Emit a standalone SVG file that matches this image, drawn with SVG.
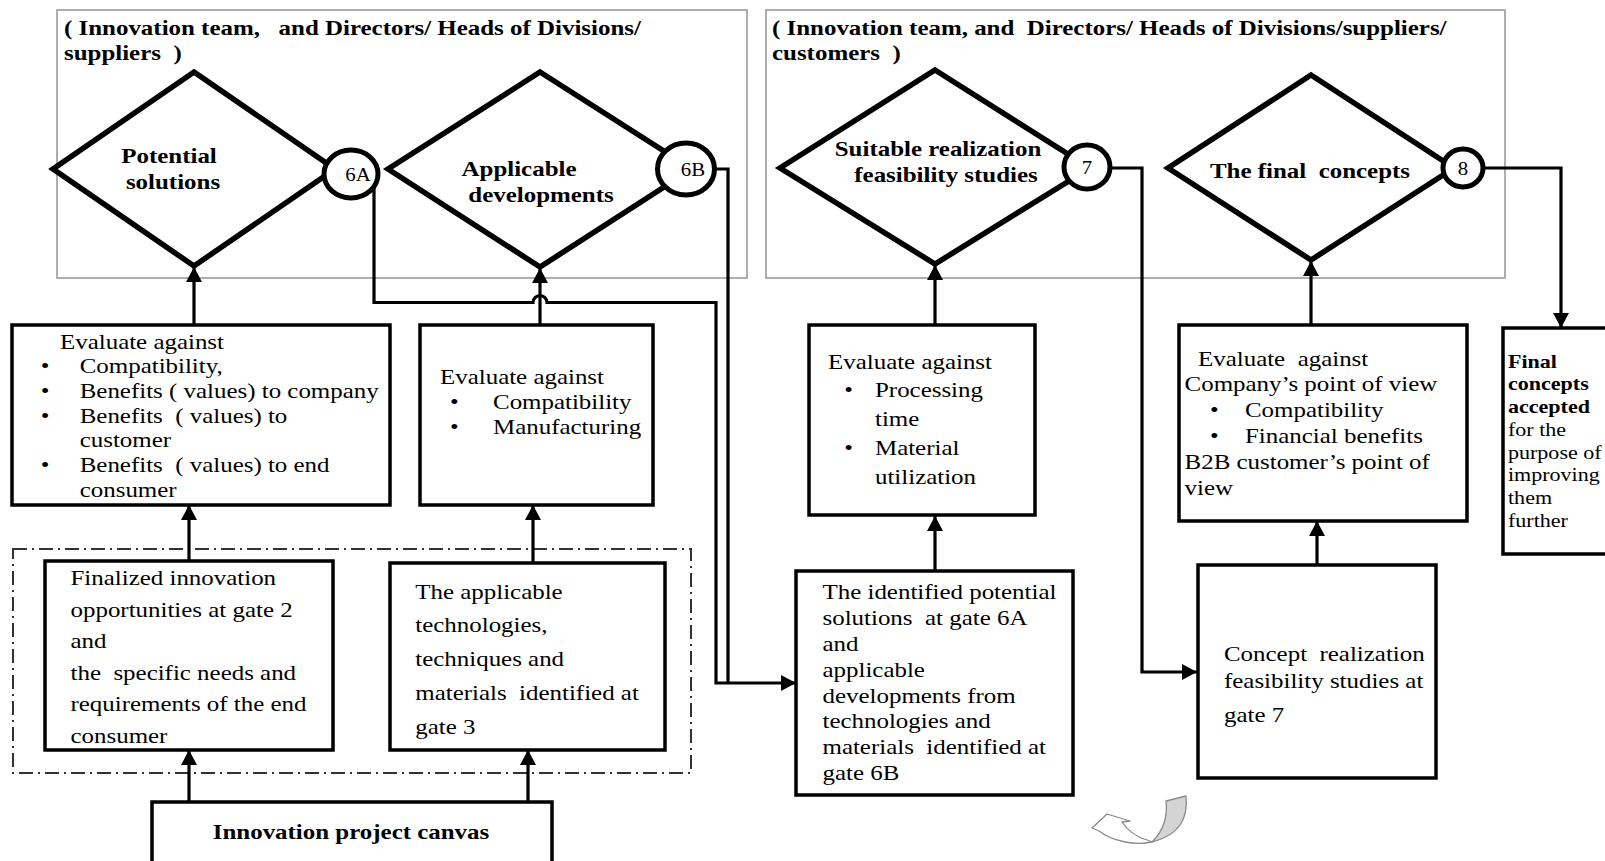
<svg xmlns="http://www.w3.org/2000/svg" width="1605" height="861" viewBox="0 0 1605 861">
  <defs>
    <marker id="ah" markerWidth="15" markerHeight="16" refX="15" refY="8" orient="auto" markerUnits="userSpaceOnUse">
      <path d="M0,0 L15,8 L0,16 Z" fill="#000"/>
    </marker>
    <style>
      .t { font-family: "Liberation Serif", "Times New Roman", serif; font-size: 21.5px; fill: #000; }
      .b { font-weight: bold; }
      .sm { font-size: 19px; }
      .num { font-size: 18px; }
      .grp { fill: none; stroke: #9a9a9a; stroke-width: 1.6; }
      .box { fill: #fff; stroke: #000; stroke-width: 3.5; }
      .dia { fill: #fff; stroke: #000; stroke-width: 5.5; stroke-linejoin: miter; }
      .gate { fill: #fff; stroke: #000; stroke-width: 5; }
      .wire { fill: none; stroke: #000; stroke-width: 3.2; }
      .arr { fill: none; stroke: #000; stroke-width: 3.2; marker-end: url(#ah); }
      .dashed { fill: none; stroke: #333; stroke-width: 2; stroke-dasharray: 14 5 2 5; }
    </style>
  </defs>

  <rect width="1605" height="861" fill="#fff"/>

  <!-- participant frames -->
  <g id="frame-left">
    <rect class="grp" x="57" y="10" width="690" height="268"/>
    <text class="t b" transform="translate(64,34.5) scale(1.16,1)"><tspan x="0" y="0">( Innovation team,&#160;&#160; and Directors/ Heads of Divisions/</tspan><tspan x="0" dy="25.5">suppliers&#160; )</tspan></text>
  </g>
  <g id="frame-right">
    <rect class="grp" x="766" y="10" width="739" height="268"/>
    <text class="t b" transform="translate(772,34.5) scale(1.16,1)"><tspan x="0" y="0">( Innovation team, and&#160; Directors/ Heads of Divisions/suppliers/</tspan><tspan x="0" dy="25.5">customers&#160; )</tspan></text>
  </g>

  <!-- input grouping -->
  <g id="inputs-group">
    <rect class="dashed" x="13" y="549" width="678" height="224"/>
  </g>

  <!-- connectors -->
  <g id="connectors">
    <path class="arr" d="M194,325 V267"/>
    <path class="arr" d="M540,325 V268"/>
    <path class="arr" d="M935,325 V265"/>
    <path class="arr" d="M1311,325 V261"/>
    <path class="arr" d="M189,561 V505"/>
    <path class="arr" d="M533,563 V505"/>
    <path class="arr" d="M189,802 V750"/>
    <path class="arr" d="M528,802 V750"/>
    <path class="arr" d="M935,571 V516"/>
    <path class="arr" d="M1317,565 V521"/>
    <path class="wire" d="M686,169 H728 V683"/>
    <path class="arr" d="M374,176 V302.5 H533 A7,7 0 0 1 547,302.5 H716 V683 H796"/>
    <path class="arr" d="M1087,168 H1142 V672 H1197"/>
    <path class="arr" d="M1463,168 H1561 V328"/>
  </g>

  <!-- gate 6A -->
  <g id="gate-6a">
    <polygon class="dia" points="194,72 335,169 194,266 53,169"/>
    <text class="t b" text-anchor="middle" transform="translate(169,162.5) scale(1.16,1)">Potential</text>
    <text class="t b" text-anchor="middle" transform="translate(173,188.5) scale(1.16,1)">solutions</text>
    <ellipse class="gate" cx="351" cy="174" rx="27" ry="24"/>
    <text class="t num" text-anchor="middle" transform="translate(358,180.5) scale(1.16,1)">6A</text>
  </g>

  <!-- gate 6B -->
  <g id="gate-6b">
    <polygon class="dia" points="540,72 692,169 540,267 388,169"/>
    <text class="t b" text-anchor="middle" transform="translate(519,175.5) scale(1.16,1)">Applicable</text>
    <text class="t b" text-anchor="middle" transform="translate(541,201.5) scale(1.16,1)">developments</text>
    <ellipse class="gate" cx="686" cy="169" rx="28.5" ry="26"/>
    <text class="t num" text-anchor="middle" transform="translate(693,175.5) scale(1.16,1)">6B</text>
  </g>

  <!-- gate 7 -->
  <g id="gate-7">
    <polygon class="dia" points="935,70 1090,168 935,264 780,168"/>
    <text class="t b" text-anchor="middle" transform="translate(938,155.5) scale(1.16,1)">Suitable realization</text>
    <text class="t b" text-anchor="middle" transform="translate(946,182) scale(1.16,1)">feasibility studies</text>
    <ellipse class="gate" cx="1087" cy="167" rx="23" ry="22"/>
    <text class="t num" text-anchor="middle" transform="translate(1087,173.5) scale(1.16,1)">7</text>
  </g>

  <!-- gate 8 -->
  <g id="gate-8">
    <polygon class="dia" points="1311,75 1454,168 1311,260 1168,168"/>
    <text class="t b" text-anchor="middle" transform="translate(1310,177.5) scale(1.16,1)">The final&#160; concepts</text>
    <ellipse class="gate" cx="1463" cy="168" rx="20" ry="19"/>
    <text class="t num" text-anchor="middle" transform="translate(1463,174.5) scale(1.16,1)">8</text>
  </g>

  <!-- evaluation criteria -->
  <g id="eval-6a">
    <rect class="box" x="12" y="325" width="378" height="180"/>
    <text class="t" transform="translate(60,348.5) scale(1.16,1)">
      <tspan x="0" y="0">Evaluate against</tspan>
      <tspan x="-16.5" dy="24.7">•</tspan><tspan x="17" >Compatibility,</tspan>
      <tspan x="-16.5" dy="24.7">•</tspan><tspan x="17">Benefits ( values) to company</tspan>
      <tspan x="-16.5" dy="24.7">•</tspan><tspan x="17">Benefits&#160; ( values) to</tspan>
      <tspan x="17" dy="24.7">customer</tspan>
      <tspan x="-16.5" dy="24.7">•</tspan><tspan x="17">Benefits&#160; ( values) to end</tspan>
      <tspan x="17" dy="24.7">consumer</tspan>
    </text>
  </g>

  <g id="eval-6b">
    <rect class="box" x="420" y="325" width="233" height="180"/>
    <text class="t" transform="translate(440,383.5) scale(1.16,1)">
      <tspan x="0" y="0">Evaluate against</tspan>
      <tspan x="8.6" dy="25.3">•</tspan><tspan x="45.7">Compatibility</tspan>
      <tspan x="8.6" dy="25.3">•</tspan><tspan x="45.7">Manufacturing</tspan>
    </text>
  </g>

  <g id="eval-7">
    <rect class="box" x="809" y="325" width="226" height="190"/>
    <text class="t" transform="translate(828,368.5) scale(1.16,1)">
      <tspan x="0" y="0">Evaluate against</tspan>
      <tspan x="14" dy="28.8">•</tspan><tspan x="40.5">Processing</tspan>
      <tspan x="40.5" dy="28.8">time</tspan>
      <tspan x="14" dy="28.8">•</tspan><tspan x="40.5">Material</tspan>
      <tspan x="40.5" dy="28.8">utilization</tspan>
    </text>
  </g>

  <g id="eval-8">
    <rect class="box" x="1179" y="325" width="288" height="196"/>
    <text class="t" transform="translate(1198,365.5) scale(1.16,1)">
      <tspan x="0" y="0">Evaluate&#160; against</tspan>
      <tspan x="-11.6" dy="26">Company’s point of view</tspan>
      <tspan x="10.3" dy="26">•</tspan><tspan x="40.5">Compatibility</tspan>
      <tspan x="10.3" dy="26">•</tspan><tspan x="40.5">Financial benefits</tspan>
      <tspan x="-11.6" dy="26">B2B customer’s point of</tspan>
      <tspan x="-11.6" dy="26">view</tspan>
    </text>
  </g>

  <g id="final-concepts">
    <rect class="box" x="1503" y="328" width="110" height="226"/>
    <text class="t sm" transform="translate(1508,367.5) scale(1.16,1)">
      <tspan class="b" x="0" y="0">Final</tspan>
      <tspan class="b" x="0" dy="22.8">concepts</tspan>
      <tspan class="b" x="0" dy="22.8">accepted</tspan>
      <tspan x="0" dy="22.8">for the</tspan>
      <tspan x="0" dy="22.8">purpose of</tspan>
      <tspan x="0" dy="22.8">improving</tspan>
      <tspan x="0" dy="22.8">them</tspan>
      <tspan x="0" dy="22.8">further</tspan>
    </text>
  </g>

  <!-- inputs -->
  <g id="opportunities">
    <rect class="box" x="45" y="561" width="288" height="189"/>
    <text class="t" transform="translate(70.5,585.3) scale(1.16,1)">
      <tspan x="0" y="0">Finalized innovation</tspan>
      <tspan x="0" dy="31.5">opportunities at gate 2</tspan>
      <tspan x="0" dy="31.5">and</tspan>
      <tspan x="0" dy="31.5">the&#160; specific needs and</tspan>
      <tspan x="0" dy="31.5">requirements of the end</tspan>
      <tspan x="0" dy="31.5">consumer</tspan>
    </text>
  </g>

  <g id="technologies">
    <rect class="box" x="390" y="563" width="275" height="187"/>
    <text class="t" transform="translate(415.3,598.5) scale(1.16,1)">
      <tspan x="0" y="0">The applicable</tspan>
      <tspan x="0" dy="33.8">technologies,</tspan>
      <tspan x="0" dy="33.8">techniques and</tspan>
      <tspan x="0" dy="33.8">materials&#160; identified at</tspan>
      <tspan x="0" dy="33.8">gate 3</tspan>
    </text>
  </g>

  <g id="canvas">
    <rect class="box" x="152" y="802" width="400" height="70"/>
    <text class="t b" text-anchor="middle" transform="translate(351,839) scale(1.16,1)">Innovation project canvas</text>
  </g>

  <g id="identified-solutions">
    <rect class="box" x="796" y="571" width="277" height="224"/>
    <text class="t" transform="translate(822.5,599) scale(1.16,1)">
      <tspan x="0" y="0">The identified potential</tspan>
      <tspan x="0" dy="25.9">solutions&#160; at gate 6A</tspan>
      <tspan x="0" dy="25.9">and</tspan>
      <tspan x="0" dy="25.9">applicable</tspan>
      <tspan x="0" dy="25.9">developments from</tspan>
      <tspan x="0" dy="25.9">technologies and</tspan>
      <tspan x="0" dy="25.9">materials&#160; identified at</tspan>
      <tspan x="0" dy="25.9">gate 6B</tspan>
    </text>
  </g>

  <g id="realization-studies">
    <rect class="box" x="1198" y="565" width="238" height="213"/>
    <text class="t" transform="translate(1224,661) scale(1.16,1)">
      <tspan x="0" y="0">Concept&#160; realization</tspan>
      <tspan x="0" dy="27">feasibility studies at</tspan>
      <tspan x="0" dy="34">gate 7</tspan>
    </text>
  </g>

  <!-- iteration mark -->
  <g id="loop-mark" stroke="#8a8a8a" stroke-width="1.3" stroke-linejoin="round">
    <path d="M1152,842 C1135,846 1112,841 1099,831 L1092,828 L1107,814 L1130,821 L1122,822 C1128,831 1137,837 1147,840 Z" fill="#fff"/>
    <path d="M1166,801 L1186,796 C1188,816 1182,834 1152,842 C1162,832 1168,818 1166,801 Z" fill="#d4d4d4"/>
  </g>
</svg>
